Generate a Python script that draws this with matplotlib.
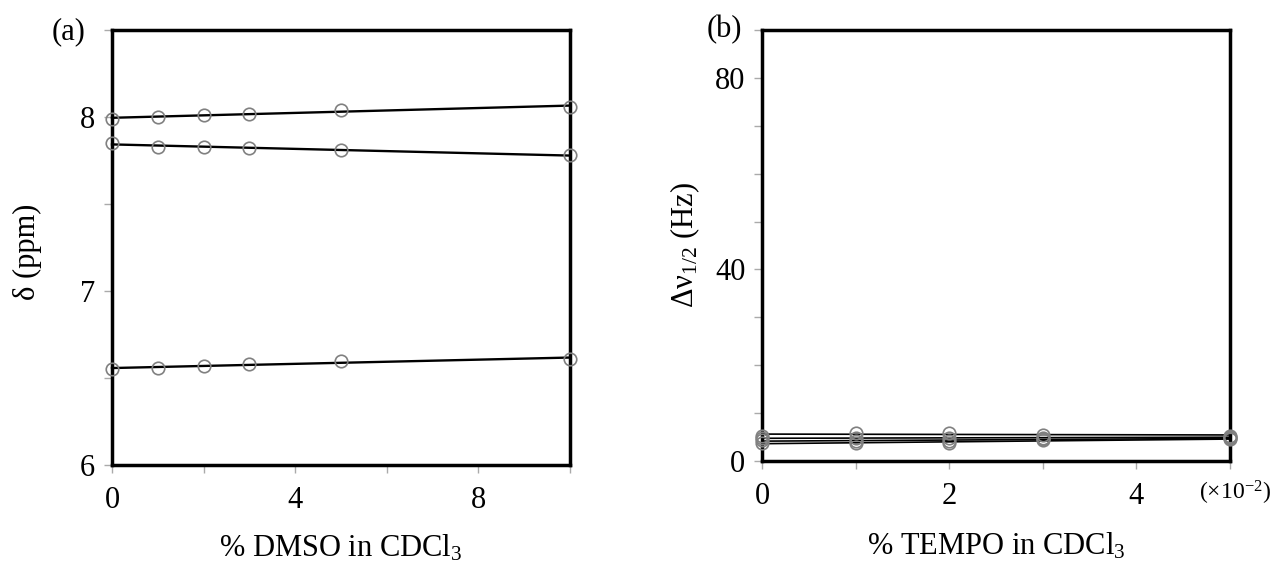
import numpy as np
import matplotlib
matplotlib.use("Agg")
import matplotlib.pyplot as plt

plt.rcParams['font.family'] = ['Liberation Serif', 'DejaVu Serif']
plt.rcParams['mathtext.fontset'] = 'custom'
plt.rcParams['mathtext.rm'] = 'Liberation Serif'
plt.rcParams['mathtext.it'] = 'Liberation Serif:italic'

# Panel (a): chemical shift vs % DMSO
dmso_pct = [0, 1, 2, 3, 5, 10]
shift_h1 = [7.99, 8.00, 8.01, 8.02, 8.04, 8.06]
shift_h2 = [7.85, 7.83, 7.83, 7.82, 7.81, 7.78]
shift_h3 = [6.55, 6.56, 6.57, 6.58, 6.60, 6.61]

# Panel (b): line width vs % TEMPO (x10^-2)
tempo_pct = [0, 1, 2, 3, 5]
width_s1 = [5.3, 5.8, 5.8, 5.5, 5.3]
width_s2 = [4.8, 4.8, 4.7, 4.9, 5.0]
width_s3 = [4.3, 4.2, 4.2, 4.5, 4.8]
width_s4 = [3.8, 3.7, 3.7, 4.4, 4.6]

a_ticks = [0, 4, 8]
a_yticks = [6, 7, 8]
b_ticks = [0, 2, 4]
b_yticks = [0, 40, 80]

fig = plt.figure(figsize=(12.77, 5.66), dpi=100)
ax1 = fig.add_axes([112/1277, 1-465/566, (570-112)/1277, (465-30)/566])
ax2 = fig.add_axes([762/1277, 1-461/566, (1230-762)/1277, (461-30)/566])

mk = dict(marker='o', markersize=9, markerfacecolor='none',
          markeredgecolor='#808080', markeredgewidth=1.2, linestyle='none', zorder=3)

def fitline(ax, x, y, lw):
    p = np.polyfit(x, y, 1)
    xs = np.array([min(x), max(x)])
    ax.plot(xs, np.polyval(p, xs), color='black', lw=lw, zorder=2, clip_on=False)

for ys in (shift_h1, shift_h2, shift_h3):
    fitline(ax1, dmso_pct, ys, 1.7)
    ax1.plot(dmso_pct, ys, clip_on=False, **mk)

for ys in (width_s1, width_s2, width_s3, width_s4):
    fitline(ax2, tempo_pct, ys, 1.2)
    ax2.plot(tempo_pct, ys, clip_on=False, **mk)

fs = 22
for ax in (ax1, ax2):
    for s in ax.spines.values():
        s.set_linewidth(2.5)
        s.set_color('black')
    ax.tick_params(axis='both', direction='out', length=6, width=1, color='#aaaaaa',
                   labelsize=fs)
    ax.tick_params(axis='x', pad=9)
    ax.tick_params(axis='y', pad=6)

ax1.set_xlim(0, 10)
ax1.set_ylim(6, 8.5)
ax1.set_xticks(np.arange(0, 11, 2))
ax1.set_xticklabels([str(t) if t in a_ticks else '' for t in range(0, 11, 2)])
ax1.set_yticks(np.arange(6, 8.51, 0.5))
ax1.set_yticklabels([str(int(t)) if t in a_yticks else '' for t in np.arange(6, 8.51, 0.5)])
ax1.set_xlabel('% DMSO in CDCl$_3$', fontsize=fs, va='center')
ax1.set_ylabel('δ (ppm)', fontsize=fs, va='center')
ax1.xaxis.set_label_coords(0.5, (465-548)/435)
ax1.yaxis.set_label_coords((27-112)/458, 0.49)

ax2.set_xlim(0, 5)
ax2.set_ylim(0, 90)
ax2.set_xticks(np.arange(0, 6, 1))
ax2.set_xticklabels([str(t) if t in b_ticks else '' for t in range(0, 6)])
ax2.set_yticks(np.arange(0, 91, 10))
ax2.set_yticklabels([str(t) if t in b_yticks else '' for t in range(0, 91, 10)])
ax2.set_xlabel('% TEMPO in CDCl$_3$', fontsize=fs, va='center')
ax2.set_ylabel('Δν$_{1/2}$ (Hz)', fontsize=fs, va='center')
ax2.xaxis.set_label_coords(0.5, (461-546)/431)
ax2.yaxis.set_label_coords((685-762)/468, 0.5)

fig.text(52/1277, 1-32/566, '(a)', fontsize=fs, ha='left', va='center')
fig.text(707/1277, 1-30/566, '(b)', fontsize=fs, ha='left', va='center')
fig.text(1199/1277, 1-493/566, '(×10$^{-2}$)', fontsize=17, ha='left', va='center')

fig.savefig('out.png', dpi=100)
